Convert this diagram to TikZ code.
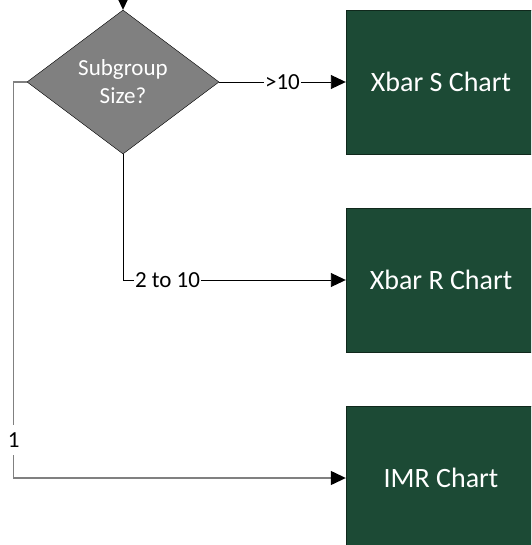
\documentclass[tikz,border=0pt]{standalone}
\usepackage{fontspec}
\setmainfont{Carlito}
\usetikzlibrary{shapes.geometric,arrows.meta}
\definecolor{chartgreen}{RGB}{28,74,53}
\definecolor{chartedge}{RGB}{16,40,28}
\definecolor{decgray}{RGB}{128,128,128}
\tikzset{
  chartbox/.style={draw=chartedge,fill=chartgreen,text=white,minimum width=190pt,minimum height=144pt,font=\fontsize{28}{32}\selectfont},
  decision/.style={diamond,draw=black,fill=decgray,text=white,aspect=1.333,minimum width=192pt,minimum height=144pt,inner sep=0pt,align=center,font=\fontsize{23}{28}\selectfont},
  flow/.style={line width=0.9pt,-{Triangle[length=15pt,width=14pt,color=black]}},
  lbl/.style={fill=white,inner xsep=1pt,inner ysep=8pt,font=\fontsize{23}{28}\selectfont}
}
\begin{document}
\begin{tikzpicture}[x=1pt,y=-1pt]
  \useasboundingbox (0,0) rectangle (531,545);
  \clip (0,0) rectangle (531,545);

  \node[decision] (size) at (123,82) {Subgroup\\Size?};
  \node[chartbox] (xbars) at (441,82) {Xbar S Chart};
  \node[chartbox] (xbarr) at (441,280) {Xbar R Chart};
  \node[chartbox] (imr) at (441,478) {IMR Chart};
  \coordinate (start) at (123,-12);

  \draw[flow] (start) -- (size.north);
  \draw[flow] (size.east) -- node[lbl] {>10} (xbars.west);
  \draw[flow] (size.south) |- node[lbl,pos=0.6] {2 to 10} (xbarr.west);
  \draw[flow,draw=decgray,line width=1.3pt] (size.west) -- ++(-13,0) |- node[lbl,pos=0.452] {1} (imr.west);
\end{tikzpicture}
\end{document}
